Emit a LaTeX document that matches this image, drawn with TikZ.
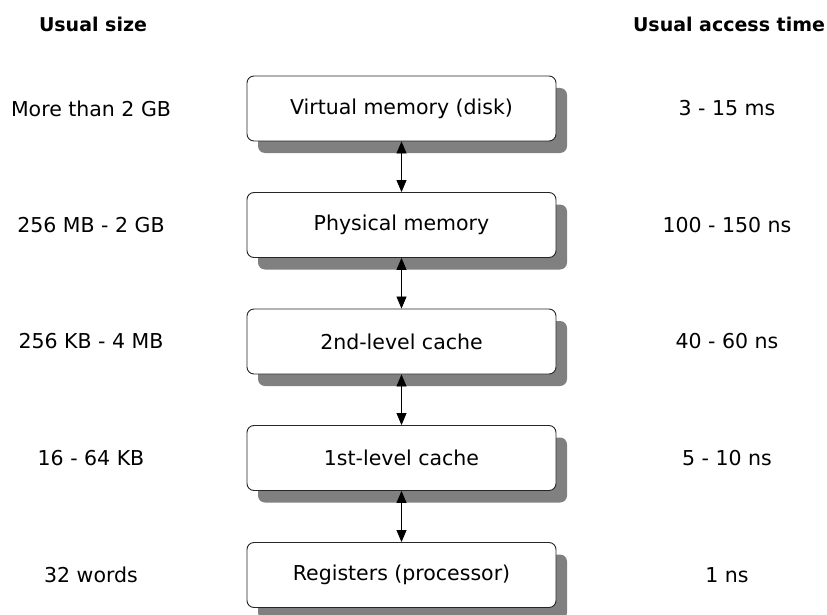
\documentclass[tikz,border=0pt]{standalone}
\usepackage{fontspec}
\setmainfont{DejaVu Sans}
\usetikzlibrary{arrows.meta,shadows}

\begin{document}
\begin{tikzpicture}[
    x=1pt, y=-1pt,
    level/.style={
        draw=black!85,
        line width=0.9pt,
        fill=white,
        rounded corners=7pt,
        minimum width=309pt,
        minimum height=65pt,
        font=\fontsize{20.5}{24}\selectfont,
        drop shadow={shadow xshift=11pt, shadow yshift=-12pt, fill=black!50, opacity=1}
    },
    value/.style={font=\fontsize{20.5}{24}\selectfont},
    heading/.style={font=\fontsize{19}{23}\selectfont\bfseries},
    transfer/.style={{Triangle[length=12pt,width=10pt]}-{Triangle[length=12pt,width=10pt]}, line width=0.8pt}
]
\useasboundingbox (0,0) rectangle (827,615);

% column headings
\node[heading] (sizehead) at (93,24) {Usual size};
\node[heading] (timehead) at (729,24) {Usual access time};

% memory levels
\node[level] (virtual) at (401.5,108.5) {Virtual memory (disk)};
\node[level] (physical) at (401.5,225) {Physical memory};
\node[level] (cache2) at (401.5,341.5) {2nd-level cache};
\node[level] (cache1) at (401.5,458) {1st-level cache};
\node[level] (registers) at (401.5,575) {Registers (processor)};

% sizes
\node[value] (size1) at (91,108.5) {More than 2 GB};
\node[value] (size2) at (91,225) {256 MB - 2 GB};
\node[value] (size3) at (91,341.5) {256 KB - 4 MB};
\node[value] (size4) at (91,458) {16 - 64 KB};
\node[value] (size5) at (91,575) {32 words};

% access times
\node[value] (time1) at (727,108.5) {3 - 15 ms};
\node[value] (time2) at (727,225) {100 - 150 ns};
\node[value] (time3) at (727,341.5) {40 - 60 ns};
\node[value] (time4) at (727,458) {5 - 10 ns};
\node[value] (time5) at (727,575) {1 ns};

\draw[transfer] (virtual) -- (physical);
\draw[transfer] (physical) -- (cache2);
\draw[transfer] (cache2) -- (cache1);
\draw[transfer] (cache1) -- (registers);

\end{tikzpicture}
\end{document}
